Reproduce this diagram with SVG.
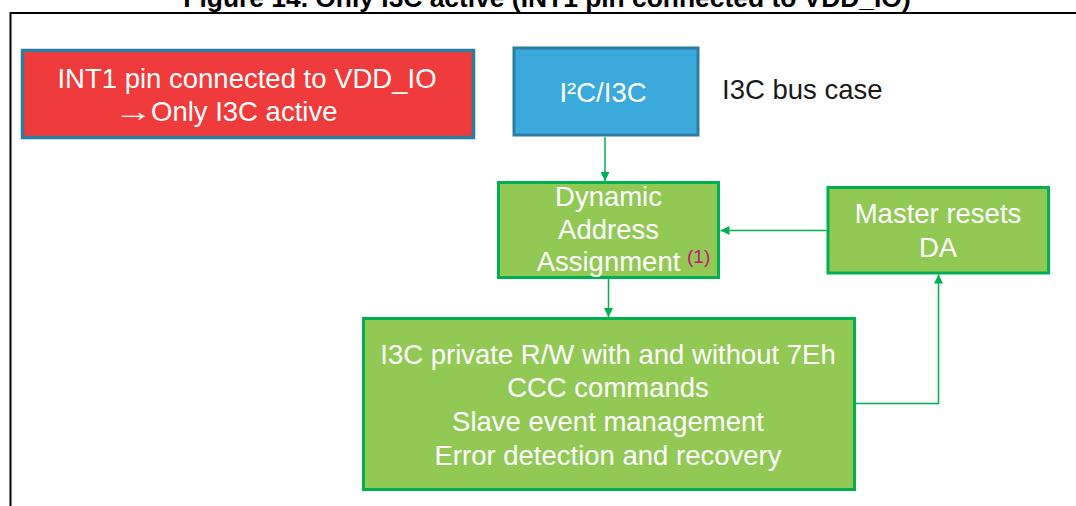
<svg xmlns="http://www.w3.org/2000/svg" width="1076" height="506" viewBox="0 0 1076 506">
  <defs>
    <marker id="ah" viewBox="0 0 10 10" refX="10" refY="5" markerUnits="userSpaceOnUse" markerWidth="9" markerHeight="9" orient="auto">
      <path d="M0,0 L10,5 L0,10 z" fill="#00b050"/>
    </marker>
    <style>
      text { font-family: "Liberation Sans", Arial, sans-serif; }
      .w { fill: #ffffff; font-size: 27.5px; text-anchor: middle; }
      .green { fill: #92c955; stroke: #00b050; stroke-width: 3; }
      .conn { fill: none; stroke: #00b050; stroke-width: 1.5; marker-end: url(#ah); }
    </style>
  </defs>
  <rect width="1076" height="506" fill="#ffffff"/>
  <text x="547" y="7" font-size="26.4" font-weight="bold" text-anchor="middle" fill="#000">Figure 14. Only I3C active (INT1 pin connected to VDD_IO)</text>
  <path d="M10.5,506 V13 H1076" fill="none" stroke="#000" stroke-width="2"/>

  <g id="note">
    <rect x="22.5" y="50.5" width="451" height="87" fill="#ef3b3b" stroke="#2e7ca0" stroke-width="3.5"/>
    <text class="w" x="247" y="88">INT1 pin connected to VDD_IO</text>
    <text transform="translate(114,121) scale(1.4,1.05)" font-size="27.5" font-weight="bold" fill="#ffffff">→</text>
    <text class="w" x="151" y="121" style="text-anchor:start">Only I3C active</text>
  </g>

  <g id="bus">
    <rect x="514" y="48" width="184" height="87" fill="#3aa9dc" stroke="#2e7ca0" stroke-width="3"/>
    <text class="w" x="603" y="102">I²C/I3C</text>
  </g>
  <text x="722" y="99" font-size="27.5" fill="#1a1a1a">I3C bus case</text>

  <g id="daa">
    <rect class="green" x="498.5" y="182.5" width="220" height="95"/>
    <text class="w" x="608.5" y="206">Dynamic</text>
    <text class="w" x="608.5" y="238.5">Address</text>
    <text class="w" x="608.5" y="271">Assignment</text>
    <text x="687" y="263" font-size="19" fill="#c0177a">(1)</text>
  </g>

  <g id="reset">
    <rect class="green" x="828" y="187.5" width="220.5" height="85.5"/>
    <text class="w" x="938" y="223">Master resets</text>
    <text class="w" x="938" y="257">DA</text>
  </g>

  <g id="ops">
    <rect class="green" x="363.5" y="318.5" width="491" height="171"/>
    <text class="w" x="608" y="364">I3C private R/W with and without 7Eh</text>
    <text class="w" x="608" y="397">CCC commands</text>
    <text class="w" x="608" y="431">Slave event management</text>
    <text class="w" x="608" y="465">Error detection and recovery</text>
  </g>

  <g id="connectors">
    <path class="conn" d="M605,137 V181"/>
    <path class="conn" d="M826.5,230.5 H720.5"/>
    <path class="conn" d="M608.5,279 V317"/>
    <path class="conn" d="M856,403.5 H938.5 V274.5"/>
  </g>
</svg>
